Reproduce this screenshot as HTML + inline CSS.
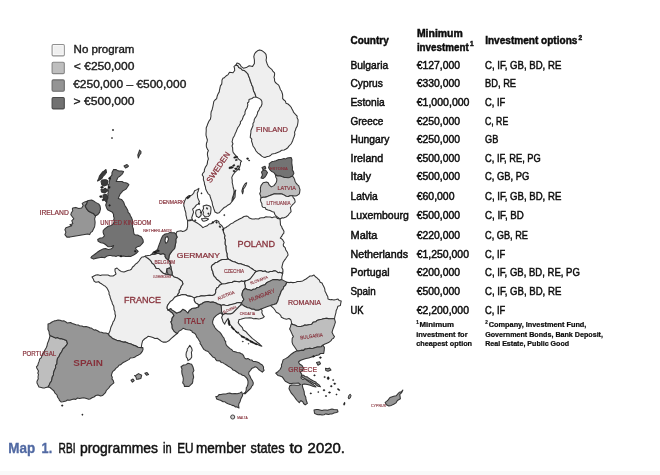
<!DOCTYPE html>
<html><head><meta charset="utf-8"><title>Map 1. RBI programmes in EU member states to 2020</title>
<style>
html,body{margin:0;padding:0;background:#fff;}
body{width:660px;height:475px;overflow:hidden;position:relative;}
svg{position:absolute;left:0;top:0;display:block;filter:blur(0.45px);}
</style></head><body>
<svg width="660" height="475" viewBox="0 0 660 475">
<rect x="0" y="0" width="660" height="475" fill="#fff"/>
<rect x="0" y="471" width="660" height="4" fill="#f9f9f9"/>
<g stroke="#333333" stroke-width="1.05" stroke-linejoin="round">
<polygon points="236.00,65.00 238.02,65.83 238.70,67.60 240.60,68.19 242.20,70.00 244.18,70.45 245.70,71.60 248.00,74.00 248.45,75.71 249.20,77.40 250.04,79.66 250.30,81.00 251.30,83.36 251.50,84.40 253.00,87.24 253.20,89.00 253.50,90.64 255.00,93.60 256.00,97.00 253.43,97.35 252.00,98.50 249.00,99.50 248.85,101.79 247.50,103.00 247.83,104.92 247.00,108.00 245.72,109.87 244.99,112.00 245.00,114.00 243.31,116.42 242.65,118.55 242.00,120.00 240.35,121.95 240.50,123.35 239.00,126.00 237.72,127.79 236.94,129.59 236.00,132.00 235.15,133.63 234.62,135.42 233.00,138.00 232.36,140.68 232.04,141.82 232.95,143.70 232.00,146.00 232.62,147.48 232.74,150.36 233.00,152.00 233.69,153.22 235.76,155.54 237.00,157.00 238.60,159.16 240.50,160.50 241.60,161.20 240.59,162.35 240.40,164.60 239.30,168.00 237.00,170.40 234.60,172.70 232.90,175.00 231.80,177.40 232.30,180.80 232.16,182.48 232.90,185.50 233.13,187.27 234.00,190.00 234.06,192.87 233.50,194.80 232.72,196.85 232.30,198.20 231.80,201.70 230.00,204.00 227.70,205.20 225.87,206.82 224.20,207.50 222.83,208.77 220.70,211.00 219.06,212.81 217.30,213.30 215.00,212.00 213.80,208.70 213.09,206.45 212.60,205.20 212.00,201.70 211.16,199.59 210.30,197.00 209.81,195.15 208.00,193.60 206.65,191.05 205.70,189.00 205.47,187.04 204.50,184.30 204.30,182.11 203.40,179.70 203.45,176.81 202.20,175.00 202.82,173.23 204.30,171.60 204.39,169.80 205.30,167.40 206.95,164.75 207.40,163.00 207.57,161.10 208.40,159.00 207.80,156.64 207.40,154.70 207.49,152.78 208.40,150.50 207.51,149.40 206.44,146.94 206.30,145.30 206.52,142.86 206.92,142.37 207.40,140.00 206.66,137.65 206.05,135.34 206.00,134.00 206.12,132.07 206.22,130.70 206.18,128.02 207.00,126.00 207.80,123.67 209.00,121.00 210.43,119.15 211.00,116.00 210.87,114.56 211.18,111.74 212.00,110.00 212.51,108.15 213.00,106.00 213.35,103.99 213.79,101.54 215.00,100.00 216.66,98.55 217.21,95.98 218.00,94.00 219.26,91.87 219.47,90.15 220.00,88.00 220.40,85.83 221.68,84.12 221.92,82.26 222.00,80.00 223.11,78.09 224.11,77.98 226.00,76.00 228.12,74.61 229.50,72.20 233.00,72.80 234.70,70.50 234.55,68.50 234.00,66.40" fill="#efefef"/>
<polygon points="237.00,63.00 238.70,63.50 240.28,64.80 241.00,66.40 243.40,68.20 246.30,67.60 249.20,65.80 252.60,66.40 254.40,63.50 254.40,60.00 253.80,56.60 254.40,54.30 255.50,52.50 257.45,50.80 259.60,49.90 261.60,50.52 263.00,51.40 264.80,52.86 266.00,54.30 266.50,57.70 266.06,60.23 266.50,61.80 267.25,64.04 268.30,66.40 269.62,67.67 271.70,69.30 273.02,71.46 274.60,72.80 274.57,75.20 274.00,77.40 274.53,78.92 274.60,81.00 275.42,82.48 277.00,83.80 278.69,85.15 279.80,87.80 280.41,89.71 281.60,91.30 282.54,94.25 282.70,96.00 282.65,98.69 284.00,100.00 285.40,101.14 286.07,103.36 288.00,104.00 289.79,105.67 291.15,107.28 292.00,109.00 293.22,111.16 293.33,111.83 294.81,113.71 296.00,115.00 297.16,116.06 297.03,117.82 298.09,119.67 298.00,122.00 297.61,124.32 297.14,126.38 296.05,128.00 295.50,130.00 294.56,132.15 294.84,134.24 294.00,137.00 293.14,139.18 292.64,140.77 291.70,142.72 291.00,144.00 288.66,146.36 287.82,147.73 286.00,149.00 284.17,149.98 281.77,150.15 280.00,151.50 277.01,152.72 275.00,153.50 272.11,153.92 270.50,155.50 268.89,156.27 266.59,156.78 265.00,157.50 263.14,156.89 261.69,156.15 260.00,154.50 257.98,153.13 256.00,151.00 255.35,149.55 254.49,148.05 253.00,146.00 252.43,143.61 251.50,141.00 251.83,139.04 250.23,137.47 250.50,135.00 250.81,132.90 250.95,130.45 252.00,128.00 253.00,125.82 252.95,123.51 254.00,122.00 254.27,119.56 255.01,118.13 256.50,116.00 257.52,113.40 257.62,112.09 259.00,110.00 259.76,107.89 261.17,106.28 262.00,104.00 261.85,101.19 260.70,99.40 257.68,97.64 256.00,97.00 255.00,93.60 253.50,90.64 253.20,89.00 253.00,87.24 251.50,84.40 251.30,83.36 250.30,81.00 250.04,79.66 249.20,77.40 248.45,75.71 248.00,74.00 245.70,71.60 244.18,70.45 242.20,70.00 240.60,68.19 238.70,67.60 238.02,65.83 236.00,65.00" fill="#efefef"/>
<polygon points="269.20,163.70 272.00,161.60 273.97,161.19 275.95,160.68 278.80,159.60 281.14,159.40 283.95,158.58 285.70,158.90 287.27,158.09 288.74,157.67 291.10,157.50 291.96,159.77 291.80,162.30 291.90,164.47 292.29,166.39 292.50,167.80 292.28,169.90 293.50,171.88 293.90,173.30 292.50,176.00 289.80,177.40 288.15,177.72 285.99,177.42 284.30,177.40 282.48,176.80 280.24,175.96 277.50,176.00 275.40,174.60 274.00,172.60 271.30,171.20 270.17,170.18 268.60,167.80 269.37,165.13" fill="#737373"/>
<polygon points="261.50,172.00 262.84,170.60 265.50,170.00 267.50,172.50 266.00,175.50 264.65,177.39 263.00,178.50 261.00,178.00 262.50,175.00" fill="#737373"/>
<polygon points="262.00,167.50 265.00,166.30 265.80,168.30 263.00,169.80" fill="#737373"/>
<polygon points="275.40,174.60 277.50,176.00 280.24,175.96 282.48,176.80 284.30,177.40 285.99,177.42 288.15,177.72 289.80,177.40 292.50,176.00 293.87,177.85 294.60,179.40 294.98,181.19 295.90,182.80 297.58,184.81 298.70,185.60 299.39,187.89 300.00,189.70 299.65,192.32 299.30,193.80 296.60,195.80 295.08,195.99 292.50,195.80 290.06,195.72 288.40,196.50 286.15,196.31 284.30,195.10 281.87,193.94 280.20,193.80 278.67,194.03 276.93,194.06 274.70,193.80 273.20,194.18 271.34,194.95 269.20,195.80 267.15,196.62 265.10,197.20 262.87,197.31 261.00,197.90 260.62,195.69 259.70,193.80 260.62,191.32 260.40,189.70 260.38,188.12 261.00,185.60 263.10,182.80 266.50,182.10 268.22,182.85 269.20,184.90 271.30,186.90 274.00,185.60 276.10,182.80 276.72,180.90 276.80,178.70 275.82,177.18" fill="#bebebe"/>
<polygon points="261.00,197.90 262.87,197.31 265.10,197.20 267.15,196.62 269.20,195.80 271.34,194.95 273.20,194.18 274.70,193.80 276.93,194.06 278.67,194.03 280.20,193.80 281.87,193.94 284.30,195.10 286.15,196.31 288.40,196.50 290.06,195.72 292.50,195.80 293.24,197.55 294.60,199.20 295.20,202.00 293.50,203.78 292.50,204.70 290.40,207.50 290.75,209.55 291.10,211.60 289.00,214.00 288.06,215.45 286.00,217.00 283.48,217.93 282.18,217.70 280.00,219.00 278.30,217.69 276.00,216.00 274.78,214.22 274.00,212.00 272.45,211.70 270.02,210.56 268.00,210.00 265.86,209.25 265.43,207.67 262.89,207.28 262.00,206.00 261.84,203.50 261.00,202.00 260.39,199.77" fill="#efefef"/>
<polygon points="223.60,228.50 226.03,227.51 227.30,226.40 228.66,225.72 230.69,223.86 233.40,222.70 234.85,221.43 238.14,219.76 239.50,219.00 241.71,218.00 244.00,216.50 246.53,216.09 248.00,216.50 249.40,218.07 252.00,219.00 254.68,219.04 255.31,218.67 258.54,218.94 260.00,218.00 261.75,217.83 263.85,217.78 265.91,216.67 268.00,217.00 270.32,216.93 272.07,217.65 273.90,217.05 276.00,217.00 277.32,218.38 280.00,219.00 280.26,221.35 280.31,222.35 280.50,225.00 281.93,227.04 281.86,227.62 283.58,230.55 284.00,231.50 283.68,233.64 282.73,234.20 281.63,236.41 280.30,238.00 282.60,239.70 284.20,242.40 283.29,244.42 283.40,246.00 285.16,247.53 285.80,250.00 287.50,252.50 288.10,255.00 287.07,256.58 285.60,258.80 284.32,260.41 283.00,262.60 282.23,265.61 281.80,267.60 282.81,269.38 283.00,271.40 281.80,273.30 279.98,272.38 278.00,272.70 275.88,271.09 274.20,270.80 272.38,271.50 270.40,271.40 268.73,272.21 266.60,272.00 265.22,271.02 262.90,271.40 260.79,270.50 259.00,270.80 256.50,271.40 254.00,270.20 252.03,268.77 250.20,267.60 248.86,266.55 246.40,265.70 244.77,265.25 242.60,264.50 240.55,263.70 238.80,263.80 237.52,263.24 235.00,262.00 232.60,261.44 230.00,260.00 228.00,259.00 227.00,256.00 227.03,253.71 226.48,252.07 226.00,250.00 225.86,248.12 225.95,245.93 225.02,244.32 225.00,242.00 225.35,240.08 224.50,238.00 224.85,235.38 224.00,233.70 223.13,230.83" fill="#efefef"/>
<polygon points="177.10,231.50 179.65,230.98 180.90,230.80 182.54,231.49 184.50,231.00 186.80,229.50 187.60,226.50 187.63,224.18 187.60,222.80 187.60,220.60 189.90,220.81 192.00,220.00 194.50,221.50 196.80,222.70 199.26,224.42 200.40,225.20 202.90,227.60 205.30,226.40 207.17,225.85 209.00,224.00 211.16,223.82 212.60,222.70 214.40,221.25 216.30,220.30 218.70,221.50 219.27,223.65 221.20,225.20 222.18,226.20 223.60,228.50 223.13,230.83 224.00,233.70 224.85,235.38 224.50,238.00 225.35,240.08 225.00,242.00 225.02,244.32 225.95,245.93 225.86,248.12 226.00,250.00 226.48,252.07 227.03,253.71 227.00,256.00 228.00,259.00 226.26,259.57 224.00,259.50 222.38,259.46 220.00,260.50 217.31,262.30 215.81,262.45 214.00,264.00 212.21,265.15 211.30,266.90 212.00,270.10 212.84,271.49 213.20,273.80 214.00,275.98 215.70,277.60 216.57,279.09 218.30,280.20 220.80,282.70 222.00,284.00 219.50,285.20 218.38,287.14 217.00,287.80 215.70,290.30 215.70,292.80 214.50,294.70 212.30,295.41 209.40,295.30 206.81,295.51 204.40,296.00 201.46,295.77 199.30,296.60 197.09,296.84 194.20,297.90 191.70,296.60 189.18,296.12 187.90,296.00 185.56,294.69 184.10,294.70 182.10,294.63 180.30,295.30 177.20,296.00 177.80,294.10 179.08,292.46 179.10,290.30 180.40,288.57 181.00,286.50 182.90,284.00 182.20,281.40 179.70,279.50 178.03,278.35 175.90,277.60 173.96,276.98 172.10,275.00 172.10,272.50 171.50,270.00 171.21,267.58 170.80,266.20 169.93,264.68 170.20,262.40 168.50,260.00 169.00,257.00 169.09,255.74 170.20,253.60 172.10,251.00 174.60,248.50 175.20,245.40 175.90,242.20 175.83,239.24 177.10,237.20 175.90,234.00" fill="#efefef"/>
<polygon points="211.30,266.90 212.21,265.15 214.00,264.00 215.81,262.45 217.31,262.30 220.00,260.50 222.38,259.46 224.00,259.50 226.26,259.57 228.00,259.00 230.00,260.00 232.60,261.44 235.00,262.00 237.52,263.24 238.80,263.80 240.55,263.70 242.60,264.50 244.77,265.25 246.40,265.70 248.86,266.55 250.20,267.60 252.03,268.77 254.00,270.20 256.50,271.40 255.02,272.47 254.00,274.00 252.10,276.50 250.20,279.00 247.70,280.30 245.20,280.90 243.00,281.50 241.60,281.05 239.20,281.90 237.11,281.58 234.10,281.30 231.96,282.47 230.30,282.50 228.10,283.06 225.30,283.80 222.00,284.00 220.80,282.70 218.30,280.20 216.57,279.09 215.70,277.60 214.00,275.98 213.20,273.80 212.84,271.49 212.00,270.10" fill="#efefef"/>
<polygon points="256.50,271.40 259.00,270.80 260.79,270.50 262.90,271.40 265.22,271.02 266.60,272.00 268.73,272.21 270.40,271.40 272.38,271.50 274.20,270.80 275.88,271.09 278.00,272.70 279.98,272.38 281.80,273.30 283.00,272.70 282.40,274.60 281.80,277.10 281.80,279.60 279.30,280.30 277.59,279.62 275.50,279.60 273.00,279.60 270.40,280.90 268.75,281.62 266.60,282.80 264.98,284.70 262.90,285.30 261.15,286.04 259.10,287.20 256.99,287.59 255.30,289.10 253.24,289.27 251.50,290.40 249.05,289.64 247.70,289.70 245.20,287.90 245.20,286.00 244.50,282.80 245.20,280.90 247.70,280.30 250.20,279.00 252.10,276.50 254.00,274.00 255.02,272.47" fill="#efefef"/>
<polygon points="194.20,297.90 197.09,296.84 199.30,296.60 201.46,295.77 204.40,296.00 206.81,295.51 209.40,295.30 212.30,295.41 214.50,294.70 215.70,292.80 215.70,290.30 217.00,287.80 218.38,287.14 219.50,285.20 222.00,284.00 225.30,283.80 228.10,283.06 230.30,282.50 231.96,282.47 234.10,281.30 237.11,281.58 239.20,281.90 241.60,281.05 243.00,281.50 245.20,280.90 244.50,282.80 245.20,286.00 245.20,288.50 243.46,289.99 242.60,291.60 242.11,293.96 242.00,295.40 243.01,297.77 243.90,299.20 242.37,301.71 241.40,303.00 239.20,302.50 237.18,302.82 235.40,303.40 233.53,304.06 230.30,304.70 227.87,305.41 225.30,305.30 223.30,304.84 221.00,305.50 219.70,304.48 217.50,304.00 215.94,303.03 213.00,302.00 210.37,302.37 208.00,301.50 205.14,302.04 203.50,302.50 202.18,303.64 200.02,304.51 199.00,305.50 198.00,304.20 195.50,302.90 194.20,300.40" fill="#efefef"/>
<polygon points="245.20,288.50 247.70,289.70 249.05,289.64 251.50,290.40 253.24,289.27 255.30,289.10 256.99,287.59 259.10,287.20 261.15,286.04 262.90,285.30 264.98,284.70 266.60,282.80 268.75,281.62 270.40,280.90 273.00,279.60 275.50,279.60 277.59,279.62 279.30,280.30 281.80,279.60 284.30,280.90 286.90,282.20 285.60,285.30 283.87,286.63 283.10,289.10 281.48,290.68 280.80,292.50 279.86,295.14 278.80,297.10 278.16,299.88 277.60,301.50 276.30,303.70 273.80,304.60 270.60,305.60 267.50,306.50 264.30,307.80 261.20,309.10 258.50,310.30 255.56,310.33 254.00,309.30 251.53,309.15 249.50,308.00 247.57,307.84 244.50,306.30 242.20,304.60 241.40,303.00 242.37,301.71 243.90,299.20 243.01,297.77 242.00,295.40 242.11,293.96 242.60,291.60 243.46,289.99" fill="#969696"/>
<polygon points="221.00,305.50 223.30,304.84 225.30,305.30 227.87,305.41 230.30,304.70 233.53,304.06 235.40,303.40 237.18,302.82 239.20,302.50 241.40,303.00 240.50,305.30 238.77,306.83 237.90,307.80 235.40,310.30 233.54,312.28 232.90,312.90 230.47,314.04 229.10,314.10 227.18,313.87 225.30,313.50 222.80,314.80 221.50,311.60 221.50,309.00" fill="#efefef"/>
<polygon points="232.90,312.90 233.54,312.28 235.40,310.30 237.90,307.80 238.77,306.83 240.50,305.30 242.20,304.60 244.50,306.30 247.57,307.84 249.50,308.00 251.53,309.15 254.00,309.30 255.56,310.33 258.50,310.30 261.20,309.10 262.15,310.77 261.80,312.80 263.10,315.40 264.30,316.60 262.60,318.00 260.10,318.80 258.50,318.98 255.90,318.40 253.64,318.86 251.70,318.00 249.82,317.78 247.50,318.00 245.24,317.94 243.30,318.40 240.70,319.30 239.00,319.60 238.20,322.60 239.90,325.20 242.40,327.70 243.17,330.01 244.90,331.00 246.42,332.08 247.50,333.60 250.00,336.10 252.50,338.60 253.60,339.34 255.90,341.10 257.07,342.22 259.20,343.70 260.92,345.53 261.80,346.20 260.19,345.79 257.60,344.50 255.93,343.74 253.40,342.80 251.92,341.45 249.10,340.30 247.28,338.61 244.90,337.80 242.13,336.13 240.70,335.30 238.84,333.68 238.50,332.35 236.50,331.90 235.32,330.57 233.20,328.50 232.52,327.39 230.60,325.20 229.31,323.55 229.00,321.00 228.10,318.40 226.40,320.90 225.24,322.70 224.70,324.30 223.00,321.80 222.52,319.78 221.60,317.50 222.80,314.80 225.30,313.50 227.18,313.87 229.10,314.10 230.47,314.04" fill="#efefef"/>
<polygon points="286.90,282.20 289.47,282.61 290.70,282.20 292.85,282.63 295.70,282.20 297.29,281.52 300.00,281.50 302.65,280.92 304.57,279.79 306.00,279.00 308.51,277.10 310.00,276.00 311.92,276.02 314.00,275.00 315.12,276.48 317.02,277.81 318.00,279.00 319.23,279.96 320.19,282.21 322.00,283.00 322.80,284.77 324.00,287.00 324.77,288.85 325.00,291.22 326.00,293.00 326.74,294.90 327.79,296.49 328.00,299.00 330.24,299.70 331.53,299.51 334.00,300.00 336.06,299.57 338.00,299.00 339.04,300.43 341.20,301.10 340.81,302.82 340.40,305.40 337.90,306.20 337.20,308.41 336.20,310.40 335.90,312.95 335.40,314.60 334.88,316.63 334.50,318.80 332.61,318.80 330.30,318.80 328.47,318.63 326.32,318.29 323.60,318.80 321.75,319.29 319.33,319.68 316.80,320.50 315.79,321.85 313.04,322.33 311.74,324.20 310.00,324.60 306.60,325.30 304.81,325.03 302.80,325.90 300.76,326.53 299.00,326.50 297.12,326.22 295.30,325.30 292.70,324.60 291.50,323.50 291.36,321.68 290.80,319.80 289.00,318.50 286.40,319.20 283.90,318.50 281.40,317.30 280.70,315.40 278.80,313.50 276.30,312.20 275.10,310.30 273.20,307.80 270.60,305.60 273.80,304.60 276.30,303.70 277.60,301.50 278.16,299.88 278.80,297.10 279.86,295.14 280.80,292.50 281.48,290.68 283.10,289.10 283.87,286.63 285.60,285.30" fill="#efefef"/>
<polygon points="291.50,323.50 292.70,324.60 295.30,325.30 297.12,326.22 299.00,326.50 300.76,326.53 302.80,325.90 304.81,325.03 306.60,325.30 310.00,324.60 311.74,324.20 313.04,322.33 315.79,321.85 316.80,320.50 319.33,319.68 321.75,319.29 323.60,318.80 326.32,318.29 328.47,318.63 330.30,318.80 332.61,318.80 334.50,318.80 335.40,322.20 334.53,324.92 333.70,327.20 332.95,329.18 332.00,332.30 333.37,335.09 334.50,336.50 333.51,338.33 331.69,339.36 331.10,340.70 328.56,342.61 326.90,343.20 324.36,344.22 322.90,345.20 321.21,346.76 319.20,347.00 317.41,347.08 315.52,347.58 313.30,348.20 311.63,348.44 309.74,348.21 307.00,348.80 304.81,349.13 303.75,350.39 301.50,350.20 298.63,350.93 297.10,350.80 295.30,348.00 294.27,346.46 292.70,344.20 292.09,342.06 292.10,340.40 292.21,338.25 293.40,336.60 292.67,335.37 291.50,332.80 290.66,330.86 289.60,329.00 290.44,326.91 290.80,325.30" fill="#bebebe"/>
<polygon points="291.20,354.20 294.00,352.20 297.10,350.80 298.63,350.93 301.50,350.20 303.75,350.39 304.81,349.13 307.00,348.80 309.74,348.21 311.63,348.44 313.30,348.20 315.52,347.58 317.41,347.08 319.20,347.00 321.21,346.76 322.90,345.20 324.40,347.40 324.20,350.50 323.70,353.40 320.51,353.51 318.70,355.00 316.22,355.36 313.60,356.70 311.75,356.89 308.60,358.00 306.00,358.40 303.50,359.30 300.20,360.50 298.50,362.00 299.50,364.00 302.00,365.50 303.50,368.00 302.50,370.50 300.20,371.90 301.80,374.40 301.00,377.80 302.70,379.50 305.20,378.60 306.90,380.30 309.40,382.00 311.90,383.70 314.50,385.40 316.10,387.00 313.50,386.50 310.30,385.20 307.40,384.50 304.40,384.00 302.30,384.60 302.60,387.00 303.70,390.10 304.18,391.77 304.40,394.60 305.79,397.24 305.90,399.00 306.42,400.75 307.40,403.40 305.20,404.90 303.59,403.50 303.00,402.00 300.80,400.50 299.30,402.70 297.10,400.50 295.81,398.96 294.90,397.50 293.97,396.26 292.60,394.60 291.16,392.90 290.40,391.60 289.00,388.70 289.70,385.70 292.11,384.95 294.10,385.10 296.31,385.34 298.50,385.20 300.60,384.60 298.50,383.00 295.60,383.20 293.19,383.21 291.90,383.60 289.61,383.61 288.20,382.80 285.30,381.30 283.80,379.10 282.30,376.90 280.10,376.10 277.90,375.40 275.70,373.20 277.90,371.70 280.10,369.50 281.60,366.50 281.38,364.99 282.30,362.90 283.10,359.90 286.00,358.40 288.20,357.00 289.93,355.33" fill="#969696"/>
<polygon points="301.50,375.20 303.44,375.28 305.00,376.50 307.21,376.89 309.00,378.30 310.32,379.18 313.00,380.80 315.66,381.89 317.00,383.50 318.80,384.59 320.50,386.80 318.00,386.30 316.08,384.92 315.32,383.62 313.50,383.20 311.16,381.80 309.00,380.60 307.03,379.61 305.00,378.60 302.00,377.00" fill="#969696"/>
<polygon points="316.50,362.50 319.50,361.80 320.50,363.80 318.00,365.30" fill="#969696"/>
<polygon points="325.50,368.30 327.91,368.81 329.50,368.00 331.00,370.00 328.00,371.30 325.80,370.50" fill="#969696"/>
<polygon points="314.00,410.00 316.44,409.54 318.00,409.50 319.96,409.98 322.00,410.50 323.91,409.99 326.00,410.00 327.32,410.18 330.00,409.50 331.99,408.93 334.00,409.50 337.50,409.80 338.00,411.80 336.54,412.48 334.00,413.00 332.27,413.91 330.00,414.00 328.53,414.54 325.67,413.87 324.00,414.80 322.02,415.10 319.77,414.56 318.00,414.80 316.48,414.35 314.50,413.20" fill="#969696"/>
<polygon points="385.20,402.40 386.66,401.34 388.20,399.90 390.00,397.50 391.52,396.97 393.70,396.30 396.11,395.82 397.40,394.40 399.31,392.27 401.42,391.65 402.90,390.10 401.70,392.59 399.80,394.40 400.09,396.95 400.40,398.70 397.40,400.50 395.95,402.85 393.70,404.20 391.30,405.40 388.80,406.00 386.40,404.80" fill="#969696"/>
<polygon points="145.60,256.10 143.23,256.93 142.00,257.00 140.31,258.96 139.00,261.00 137.52,262.71 135.48,264.17 134.00,266.00 132.57,266.99 131.38,269.31 130.00,270.00 127.79,270.47 125.38,271.42 124.00,272.00 121.07,271.39 119.00,270.00 117.00,268.00 115.00,269.00 114.99,271.12 116.00,274.00 114.40,275.18 113.00,276.00 110.11,275.96 108.00,275.00 105.74,274.99 103.52,274.95 102.00,275.00 100.38,275.52 97.83,274.84 96.00,275.00 94.41,275.72 92.00,277.00 93.28,278.92 94.00,281.00 95.89,282.34 98.61,281.64 100.00,283.00 101.86,284.07 103.76,285.45 105.00,286.00 107.05,288.19 108.00,290.00 109.04,292.14 109.05,294.28 110.00,296.00 110.15,297.35 111.17,300.24 112.00,302.00 112.43,304.05 113.68,305.95 114.00,308.00 113.94,309.34 114.95,311.82 115.00,314.00 115.58,315.77 115.00,318.00 114.22,320.39 113.00,322.00 112.58,323.82 111.00,327.00 110.59,328.34 110.00,331.00 108.50,334.00 109.08,335.61 111.00,337.00 112.37,338.46 115.00,339.50 117.48,340.64 119.50,340.80 121.38,341.41 123.75,342.14 125.30,341.90 128.34,343.22 130.30,343.80 131.61,344.15 133.09,345.12 135.40,345.70 138.00,347.32 140.40,347.60 141.30,347.50 141.75,344.20 142.60,340.80 144.70,338.75 146.77,337.54 148.00,336.25 150.50,336.70 153.00,337.50 154.94,338.41 157.20,338.30 159.70,340.00 160.91,340.96 163.00,342.10 166.30,342.10 168.80,340.80 171.30,338.30 173.80,336.25 176.30,334.20 177.50,333.40 175.50,332.50 173.80,330.80 172.20,328.30 172.10,325.00 170.90,321.90 171.82,320.64 172.10,318.10 174.00,315.60 172.50,313.00 170.49,311.48 169.25,310.43 168.00,310.00 167.10,308.00 167.31,306.02 168.30,304.20 170.20,301.70 172.80,299.80 174.70,297.20 177.20,296.00 177.80,294.10 179.08,292.46 179.10,290.30 180.40,288.57 181.00,286.50 182.90,284.00 182.20,281.40 179.70,279.50 178.03,278.35 175.90,277.60 173.96,276.98 172.10,275.00 170.80,275.00 168.30,274.40 166.00,274.20 163.50,273.30 161.00,271.00 158.80,268.50 156.30,268.50 155.46,266.96 154.00,264.50 152.12,263.16 151.00,261.00 149.66,259.68 148.10,258.30 146.20,257.40" fill="#efefef"/>
<polygon points="187.20,349.00 188.43,347.51 189.80,345.40 191.60,348.00 192.18,350.36 191.37,352.43 191.60,354.30 191.72,357.09 190.70,358.80 188.00,360.60 187.38,358.35 186.30,357.00 186.04,354.61 186.30,352.50 187.34,350.29" fill="#efefef"/>
<polygon points="168.00,310.00 170.90,308.60 172.27,310.08 174.00,311.10 176.50,313.00 178.17,312.51 180.30,311.80 181.48,310.54 182.90,309.20 185.40,310.50 187.90,313.00 189.20,310.50 191.70,308.60 194.26,308.09 195.50,308.00 198.70,306.70 199.00,305.50 200.02,304.51 202.18,303.64 203.50,302.50 205.14,302.04 208.00,301.50 210.37,302.37 213.00,302.00 215.94,303.03 217.50,304.00 219.70,304.48 221.00,305.50 221.50,309.00 221.50,311.60 222.80,314.80 220.20,312.90 218.93,313.81 216.40,315.40 213.90,317.90 213.09,320.03 212.60,321.70 212.84,323.97 213.90,325.50 214.64,327.21 216.35,329.37 217.70,330.60 219.68,332.19 221.50,334.40 222.49,336.29 224.00,338.00 224.50,340.11 225.86,341.87 225.52,342.90 226.50,345.40 228.63,347.36 230.05,348.62 231.90,349.80 232.99,351.22 236.08,352.05 237.20,352.50 239.68,352.73 240.87,353.55 242.60,354.30 243.82,356.08 244.40,357.90 246.18,359.06 247.88,358.42 249.80,359.70 251.77,359.98 253.17,361.50 255.10,361.50 257.20,361.93 258.98,362.70 260.16,363.77 262.30,365.00 263.55,367.04 263.48,368.76 264.10,370.40 262.30,372.20 260.23,370.64 258.70,369.50 257.06,367.57 255.10,366.80 253.40,367.85 251.60,368.60 250.60,370.22 248.90,372.20 248.69,374.26 249.80,375.80 250.81,378.30 251.60,379.40 252.63,381.10 253.30,383.00 252.97,384.93 251.60,386.50 250.76,388.40 248.90,390.00 246.50,392.33 245.30,393.70 243.50,393.70 245.45,392.13 246.20,390.10 246.26,387.68 247.10,386.50 247.84,384.53 248.00,383.00 247.99,381.02 247.10,378.50 245.25,376.71 244.40,375.80 242.38,375.32 240.80,374.00 239.26,373.76 237.20,372.20 234.74,370.55 233.13,370.07 231.90,368.60 230.31,367.38 228.08,366.17 226.50,365.00 224.20,363.58 223.15,362.84 221.10,362.40 219.90,360.89 216.99,360.84 215.80,359.70 214.80,357.65 212.77,356.97 211.30,355.20 209.37,353.03 208.16,351.51 206.00,350.70 203.83,349.40 202.43,347.16 201.50,345.40 200.03,343.45 200.29,342.18 198.80,340.00 198.11,338.61 196.63,336.93 196.00,335.00 194.97,333.57 192.35,332.33 192.12,331.25 190.00,330.00 187.63,329.77 186.00,329.50 183.00,328.30 181.30,330.00 179.35,330.88 178.00,332.50 177.50,333.40 175.50,332.50 173.80,330.80 172.20,328.30 172.10,325.00 170.90,321.90 171.82,320.64 172.10,318.10 174.00,315.60 172.50,313.00 170.49,311.48 169.25,310.43" fill="#969696"/>
<polygon points="215.80,396.40 217.58,396.43 219.01,394.63 221.10,394.60 223.18,393.95 225.38,393.91 226.50,393.70 228.11,393.27 229.85,393.12 231.90,393.70 235.15,393.50 237.20,393.70 239.88,392.96 241.70,391.90 242.38,393.94 242.60,395.50 241.85,396.98 240.80,399.00 240.05,401.66 239.00,403.50 238.60,405.26 239.00,408.00 236.56,406.81 235.50,407.00 233.83,405.62 232.13,405.39 230.10,404.40 228.07,403.74 226.46,403.10 224.70,401.70 223.04,401.77 220.54,400.23 219.40,400.00 216.70,399.00" fill="#969696"/>
<polygon points="183.60,365.00 185.91,364.68 188.00,363.30 189.87,363.80 191.60,364.20 192.97,366.90 193.40,368.60 193.94,370.55 192.72,372.71 193.40,375.80 193.70,377.17 192.93,379.46 192.85,381.22 192.50,383.00 191.12,384.32 189.00,386.50 186.06,386.25 184.50,386.50 183.99,384.45 182.70,383.00 183.19,380.13 183.32,378.34 182.70,375.80 182.05,374.00 181.81,372.03 181.80,370.40 182.02,369.01 181.00,366.80" fill="#969696"/>
<polygon points="177.20,296.00 180.30,295.30 182.10,294.63 184.10,294.70 185.56,294.69 187.90,296.00 189.18,296.12 191.70,296.60 194.20,297.90 194.20,300.40 195.50,302.90 198.00,304.20 198.70,306.70 195.50,308.00 194.26,308.09 191.70,308.60 189.20,310.50 187.90,313.00 185.40,310.50 182.90,309.20 181.48,310.54 180.30,311.80 178.17,312.51 176.50,313.00 174.00,311.10 172.27,310.08 170.90,308.60 167.70,309.90 167.10,308.00 167.31,306.02 168.30,304.20 170.20,301.70 172.80,299.80 174.70,297.20" fill="#ffffff"/>
<polygon points="145.60,256.10 148.10,255.50 150.21,255.23 151.90,254.20 154.40,254.20 156.90,253.60 158.54,253.27 160.70,254.20 163.30,253.60 165.10,254.80 165.15,256.66 166.40,258.60 168.50,260.00 170.20,262.40 169.93,264.68 170.80,266.20 169.60,268.10 167.00,268.70 166.50,271.50 166.00,274.20 163.50,273.30 161.00,271.00 158.80,268.50 156.30,268.50 155.46,266.96 154.00,264.50 152.12,263.16 151.00,261.00 149.66,259.68 148.10,258.30 146.20,257.40" fill="#efefef"/>
<polygon points="167.00,268.70 169.60,268.10 171.50,270.00 172.10,272.50 172.10,275.00 170.80,275.00 168.30,274.40 167.00,271.90" fill="#969696"/>
<polygon points="162.60,235.90 165.10,234.00 168.30,233.40 169.90,232.42 172.10,232.70 174.57,232.79 175.90,234.00 177.10,237.20 175.83,239.24 175.90,242.20 175.20,245.40 174.60,248.50 172.10,251.00 170.20,253.60 169.09,255.74 169.00,257.00 168.50,260.00 166.40,258.60 165.15,256.66 165.10,254.80 163.30,253.60 160.70,254.20 158.54,253.27 156.90,253.60 154.40,254.20 151.90,254.20 153.20,252.30 155.70,251.00 157.56,249.42 158.20,247.30 158.64,246.09 159.50,243.58 160.10,242.20 160.64,240.54 161.40,238.40" fill="#737373"/>
<polygon points="165.50,237.50 167.50,236.50 168.50,239.00 167.50,242.00 166.00,243.50 165.00,241.00" fill="#ffffff"/>
<polygon points="198.90,188.40 198.00,191.80 197.29,193.07 197.50,195.70 197.71,197.64 198.50,199.60 199.40,201.50 198.50,203.90 196.50,204.90 194.60,207.30 192.60,209.20 193.60,212.10 192.60,215.00 191.70,218.00 192.50,219.60 189.75,220.00 187.60,220.60 186.80,218.90 186.49,217.11 185.90,215.00 185.89,213.15 185.40,211.20 184.87,209.72 184.40,207.30 183.78,205.99 183.90,203.40 184.90,200.50 186.40,197.60 188.80,195.70 191.70,195.20 193.60,193.30 194.60,190.80 196.50,189.90" fill="#efefef"/>
<polygon points="203.20,206.00 206.50,205.00 209.80,206.00 210.86,207.34 211.00,209.50 210.75,211.90 210.60,213.50 209.79,215.04 208.50,216.50 205.00,216.80 203.00,214.50 203.44,212.35 202.50,210.50 203.51,208.70" fill="#efefef"/>
<polygon points="196.20,210.20 199.50,209.20 201.20,211.50 201.29,213.13 201.00,215.50 198.80,217.60 196.40,216.20 195.60,213.00" fill="#efefef"/>
<polygon points="201.50,218.80 203.77,218.60 205.50,218.00 208.50,219.00 206.50,220.60 203.87,221.14 202.50,220.80" fill="#efefef"/>
<polygon points="50.00,335.50 52.40,336.47 53.50,337.00 55.60,337.91 57.50,337.50 59.55,338.66 61.00,338.50 64.00,339.50 66.50,340.50 67.50,343.50 66.32,345.41 64.50,347.50 62.81,349.03 62.01,350.97 61.50,352.00 59.85,354.41 59.00,356.50 57.42,358.52 57.00,361.50 56.92,363.90 55.50,365.50 55.70,367.77 54.50,370.00 53.45,373.13 53.50,375.00 52.21,377.11 52.00,379.00 51.30,381.39 50.00,383.00 49.24,385.04 48.00,387.00 44.88,387.86 43.00,388.00 40.35,387.28 39.00,387.00 37.61,384.34 37.00,383.00 36.98,381.35 38.29,378.87 38.00,377.00 38.48,374.34 37.79,373.26 38.50,371.00 37.00,368.57 36.40,366.80 37.80,365.40 38.27,363.38 39.10,361.40 39.73,358.95 41.17,357.85 41.90,355.90 42.59,353.76 44.10,352.20 44.60,350.50 46.09,348.03 47.00,346.00 47.47,343.34 48.50,341.00 49.50,338.00" fill="#bebebe"/>
<polygon points="48.00,324.00 49.81,323.46 52.00,322.00 54.28,320.89 55.69,320.77 58.00,320.00 60.15,320.26 62.00,321.00 64.09,320.86 66.00,322.00 67.37,323.07 70.55,322.52 72.24,323.46 74.00,324.00 75.91,324.80 78.67,325.05 79.51,325.85 82.00,326.00 83.54,326.80 86.01,326.53 88.70,327.19 90.00,328.00 91.39,328.07 94.25,330.11 95.44,329.69 98.00,331.00 99.52,332.02 101.57,332.15 103.45,332.94 106.00,333.00 108.50,334.00 109.08,335.61 111.00,337.00 112.37,338.46 115.00,339.50 117.48,340.64 119.50,340.80 121.38,341.41 123.75,342.14 125.30,341.90 128.34,343.22 130.30,343.80 131.61,344.15 133.09,345.12 135.40,345.70 138.00,347.32 140.40,347.60 142.90,347.60 143.03,349.61 142.30,351.40 140.40,353.90 138.23,355.16 136.60,355.80 134.60,357.28 132.80,357.70 130.29,357.97 129.00,359.60 127.85,360.15 125.30,361.50 123.22,362.50 122.10,363.40 120.59,364.79 118.90,365.30 117.82,366.93 115.80,368.40 114.88,369.76 112.60,371.60 111.99,373.21 111.40,375.40 112.29,377.16 112.00,379.10 113.21,380.38 113.90,382.90 111.40,384.80 109.83,386.39 108.80,388.00 106.30,390.50 105.51,392.62 104.40,393.70 102.50,395.60 100.65,395.92 98.00,395.00 95.84,395.53 94.00,397.00 92.46,397.57 90.00,399.00 88.69,399.21 85.64,398.35 83.45,397.80 82.00,398.00 79.62,398.59 77.42,398.00 75.76,399.37 74.00,399.00 71.93,399.49 69.82,400.29 67.44,399.92 66.00,401.00 62.87,401.72 61.00,402.00 59.32,400.22 59.00,399.00 57.60,397.24 57.00,395.00 54.82,392.81 54.00,391.00 52.11,389.31 50.00,387.50 48.00,387.00 49.24,385.04 50.00,383.00 51.30,381.39 52.00,379.00 52.21,377.11 53.50,375.00 53.45,373.13 54.50,370.00 55.70,367.77 55.50,365.50 56.92,363.90 57.00,361.50 57.42,358.52 59.00,356.50 59.85,354.41 61.50,352.00 62.01,350.97 62.81,349.03 64.50,347.50 66.32,345.41 67.50,343.50 66.50,340.50 64.00,339.50 61.00,338.50 59.55,338.66 57.50,337.50 55.60,337.91 53.50,337.00 52.40,336.47 50.00,335.50 49.28,333.96 49.00,331.50 47.92,329.22 48.00,327.50" fill="#969696"/>
<polygon points="134.50,375.50 136.09,375.19 138.50,373.60 141.70,375.20 140.80,378.60 137.98,379.11 136.50,379.30 136.05,377.06" fill="#969696"/>
<polygon points="144.80,373.20 147.00,372.60 148.60,374.60 146.50,375.20" fill="#969696"/>
<polygon points="131.00,380.20 133.00,379.00 134.20,380.60 132.40,382.20" fill="#969696"/>
<polygon points="72.80,207.90 75.80,207.40 78.80,208.40 81.70,207.90 83.20,205.40 82.20,203.40 84.70,201.90 87.70,200.90 86.70,203.90 85.20,205.90 86.70,208.90 88.70,211.30 91.60,212.80 93.45,213.45 94.60,214.80 95.60,215.80 94.60,218.80 94.99,221.03 95.10,222.70 94.84,225.15 94.60,226.70 93.10,229.70 92.41,231.38 90.60,232.60 89.70,234.60 87.70,234.10 84.70,234.60 81.70,235.10 78.80,235.60 75.80,236.10 72.80,236.60 69.90,237.10 66.90,237.10 64.90,234.60 65.90,232.10 64.90,229.70 65.90,227.70 68.90,226.70 71.80,225.70 69.90,224.70 72.80,223.70 71.80,220.70 73.80,218.80 72.30,216.80 70.80,214.80 71.30,212.80 72.80,210.80 72.30,208.90" fill="#969696"/>
<polygon points="87.70,200.90 88.70,200.40 91.60,200.00 93.60,200.90 95.60,202.40 98.60,203.90 100.00,205.90 100.50,208.90 99.60,212.30 97.60,214.80 95.60,215.80 94.60,214.80 93.45,213.45 91.60,212.80 88.70,211.30 86.70,208.90 85.20,205.90 86.70,203.90" fill="#737373"/>
<polygon points="113.60,169.40 116.14,169.61 117.30,170.40 119.03,171.01 121.50,171.00 123.60,171.50 122.60,173.60 121.65,174.59 119.90,176.20 117.98,177.35 117.30,178.90 116.20,181.50 119.40,181.50 122.08,181.55 123.60,182.50 125.80,182.85 127.80,183.60 128.90,184.70 127.30,187.30 125.98,189.09 124.70,189.90 122.67,191.04 121.50,192.60 120.19,193.88 119.40,195.70 118.30,198.40 121.50,199.40 123.60,202.00 124.70,205.20 125.63,206.63 126.80,208.60 127.98,210.66 128.00,212.20 129.67,213.79 130.40,215.80 131.69,218.08 132.20,219.40 132.71,222.33 132.80,224.20 132.45,226.66 133.40,229.00 133.54,231.49 134.00,233.80 135.14,234.92 137.60,235.00 139.09,235.77 141.20,236.80 143.00,239.80 143.28,242.13 142.40,243.40 140.00,246.00 137.30,246.80 135.50,248.20 136.40,249.50 138.20,251.40 136.40,253.20 133.60,255.00 130.90,256.40 128.63,256.38 127.30,256.40 125.54,256.45 123.60,255.90 120.90,256.40 118.20,255.50 116.17,256.39 114.50,255.90 112.55,256.05 110.90,255.50 109.00,255.48 107.30,255.90 104.50,257.70 101.80,257.30 99.10,257.70 96.40,258.20 93.60,259.10 90.90,257.70 91.80,256.40 94.50,254.50 97.30,252.30 100.00,250.50 102.70,249.10 105.50,248.60 108.20,249.50 110.90,249.10 112.70,247.70 113.60,245.50 110.90,246.80 108.20,246.80 105.50,244.50 103.60,243.20 100.90,242.70 98.20,241.40 97.70,239.50 99.10,238.60 100.48,237.97 102.70,237.70 104.50,235.90 103.60,234.10 103.11,232.45 103.20,230.50 105.00,228.60 107.30,226.80 109.01,225.94 111.20,225.40 113.00,224.20 114.20,221.80 113.77,219.39 114.20,218.20 113.46,216.07 113.60,214.60 112.40,212.20 110.00,211.00 107.60,209.80 106.40,207.40 105.70,205.00 106.80,202.00 106.72,199.66 107.30,197.80 107.97,195.30 107.80,193.60 108.37,192.06 107.80,189.40 108.44,187.54 108.30,185.20 109.06,183.66 109.40,181.00 110.17,179.30 110.40,176.80 111.90,175.14 112.00,172.50" fill="#737373"/>
<polygon points="106.00,169.50 104.18,170.83 102.50,172.00 100.73,174.36 99.50,176.00 98.75,178.38 97.50,181.00 99.50,180.00 101.80,178.55 103.00,176.50 105.09,174.27 106.50,172.50" fill="#3c3c3c"/>
<polygon points="101.00,181.50 102.11,180.05 104.50,179.80 106.05,179.82 108.00,181.00 107.53,182.53 107.20,184.80 104.00,186.00 101.80,184.80" fill="#3c3c3c"/>
<polygon points="101.00,189.50 103.82,189.07 105.50,188.30 108.00,190.60 106.35,191.74 104.50,193.00 101.50,192.00" fill="#3c3c3c"/>
<polygon points="103.00,195.00 106.00,194.20 107.42,196.07 108.00,198.00 106.80,199.99 106.50,202.50 104.50,200.00 103.08,197.54" fill="#3c3c3c"/>
<polygon points="124.00,166.00 127.00,164.50 128.50,166.00 127.09,167.34 125.50,168.00" fill="#737373"/>
<polygon points="139.50,150.00 141.00,151.50 140.89,153.32 139.50,155.00 138.30,158.00 137.80,155.00 139.00,152.06" fill="#737373"/>
<polygon points="246.70,182.80 245.30,183.50 243.90,185.60 242.60,188.30 241.90,191.00 242.60,193.80 243.30,191.00 243.27,188.91 244.60,187.60 246.00,184.90" fill="#efefef"/>
<polygon points="234.60,191.30 235.80,190.10 235.29,192.07 235.20,194.80 235.03,197.26 233.50,199.40 232.30,201.10 232.90,198.20 233.63,196.55 234.10,193.60" fill="#efefef"/>
</g>

<g fill="#1a1a1a" stroke="#1a1a1a" stroke-width="0.5" stroke-linejoin="round">
<circle cx="113" cy="130" r="0.7"/><circle cx="112" cy="138" r="0.6"/><circle cx="62.2" cy="405.6" r="0.75"/><circle cx="82.4" cy="414.7" r="0.6"/>
<!-- Scotland west isles clutter -->
<path d="M100.5,187 l2,-1 1,1.5 -2,1z M99.5,196 l2,-0.5 0.8,1.8 -2.2,0.2z M102,199.5 l1.6,-0.6 0.8,1.4 -1.8,0.6z M108.5,178 l1.5,-1 0.6,2 -1.6,0.5z M108.4,186.5 l1.8,0.2 -0.4,1.6 -1.6,-0.4z M109.2,204.5 l1.3,0.6 -0.6,1.2 -1.2,-0.6z"/>
<!-- Dalmatian islands -->
<path d="M228.3,319.5 l1.2,1.6 0.6,3.6 -0.9,1.2 -1.1,-2.5z M231.6,326.3 l2.6,2.6 0.2,1 -0.9,0.1 -2.4,-2.6z M235.6,330.8 l2.3,1.9 -0.3,0.8 -2.2,-1.8z M241.3,335.7 l3.5,1.4 -0.3,1.2 -3.4,-1.3z M245.8,338.3 l3.2,1.2 -0.4,1.2 -3,-1.1z M250,340.6 l3.8,1.6 -0.3,1.2 -3.7,-1.5z M254.5,342.8 l2.6,1.1 -0.3,1 -2.5,-1z"/>
<circle cx="242.8" cy="341.6" r="0.5"/><circle cx="248.6" cy="343.8" r="0.4"/>
<!-- Danish clutter -->
<path d="M186.5,197.8 l1.8,-1.2 1,1.2 -1.8,1.2z M188.8,196.2 l1.2,-0.5 0.4,1.2 -1.2,0.4z M198.8,203 l1.2,0.8 -0.8,1 -0.9,-0.8z M200.6,211.5 l1,0.8 -0.6,1 -0.8,-0.6z M206.5,207.5 l1.2,0.5 -0.3,1.4 -1,-0.6z M208,212.8 l1.2,0.6 -0.8,1.2 -0.7,-0.8z M195,219.6 l1.1,0.8 -0.8,0.9 -0.9,-0.8z M212.3,221.6 l1.4,0.6 -0.5,1.2 -1.3,-0.6z M216.2,221.2 l1.2,1.2 -0.7,1 -1,-1.1z M219.3,225.7 l1.6,0.7 -0.4,1.3 -1.4,-0.6z M222.6,228.8 l1.4,0.6 -0.5,1.2 -1.3,-0.7z"/>
<circle cx="201.5" cy="193.3" r="0.6"/><circle cx="224.3" cy="215.1" r="0.6"/>
<!-- Stockholm archipelago / Aland -->
<path d="M229,167.2 l3.2,-0.9 1.3,1.4 -2.2,0.8 -2.3,0.2z M232.5,165.5 l1.8,-1.2 0.7,1.2 -1.6,1z M234.5,168.2 l2.4,-0.4 0.5,1.6 -2.1,0.3z M236.8,166.2 l1.6,-0.7 0.6,1.5 -1.5,0.5z M233,170.6 l1.9,-0.2 0.3,1.3 -1.9,0.1z M238.5,168.7 l1.3,0.2 -0.2,1.3 -1.2,-0.3z M233.8,157 l2.8,-0.8 1.2,0.5 -1.2,1.1 -2.7,0.4z M235.2,159.8 l1.8,-0.6 0.4,1 -1.8,0.5z M246.5,158.2 l1.6,-0.4 0.6,1.3 -1.6,0.5z M248.6,160 l0.9,0 0.2,0.9 -1,0z"/>
<!-- NL delta / Thames -->
<path d="M153.2,252.2 l2.6,-1.2 1.4,1.2 -2.2,1.4z M156.8,250.6 l2,-0.6 0.6,1.2 -2,0.6z M120.2,255.6 l1.8,0.2 -0.4,1.2 -1.5,-0.3z M134.6,250.4 l1.6,0.4 -0.4,1.4 -1.4,-0.5z"/>
<!-- Greek islands -->
<ellipse cx="320.4" cy="357.6" rx="1" ry="0.8"/><ellipse cx="313.5" cy="356.3" rx="0.9" ry="0.7"/>
<ellipse cx="314.5" cy="375.3" rx="0.8" ry="0.6"/><ellipse cx="324.6" cy="377" rx="0.8" ry="0.6"/>
<ellipse cx="328.2" cy="378.2" rx="1" ry="1.4"/><ellipse cx="331.3" cy="386.2" rx="0.9" ry="0.7"/>
<ellipse cx="334.7" cy="383.7" rx="1" ry="0.7"/><ellipse cx="338.6" cy="389.6" rx="1.4" ry="0.6" transform="rotate(35 338.6 389.6)"/>
<ellipse cx="324" cy="390.2" rx="0.9" ry="0.7"/><ellipse cx="329.5" cy="392.5" rx="1" ry="0.7"/>
<ellipse cx="326" cy="396" rx="0.8" ry="0.6"/><ellipse cx="344.3" cy="403.8" rx="0.6" ry="1.5" transform="rotate(15 344.3 403.8)"/>
<ellipse cx="310.8" cy="393.4" rx="0.7" ry="0.6"/><ellipse cx="333.2" cy="380" rx="0.7" ry="0.6"/>
<ellipse cx="318.3" cy="392" rx="0.6" ry="0.5"/><ellipse cx="336.5" cy="394.5" rx="0.6" ry="0.6"/>
</g>
<g fill="#969696" stroke="#333" stroke-width="0.9">
<circle cx="232.7" cy="417" r="2.05" fill="#cfcfcf" stroke="#333" stroke-width="0.9"/>
<ellipse cx="349.6" cy="396.6" rx="1.1" ry="2.4" transform="rotate(20 349.6 396.6)"/>
</g>

<g font-family="Liberation Sans, DejaVu Sans, sans-serif" fill="#86303a" stroke="#86303a" stroke-width="0.3">
<text x="39.6" y="215.4" font-size="6.70" stroke-width="0.198" textLength="29.2" lengthAdjust="spacingAndGlyphs" font-weight="normal">IRELAND</text>
<text x="100.3" y="224.8" font-size="6.70" stroke-width="0.198" textLength="51" lengthAdjust="spacingAndGlyphs" font-weight="normal">UNITED KINGDOM</text>
<text x="143.3" y="232.3" font-size="3.67" stroke-width="0.109" textLength="28.5" lengthAdjust="spacingAndGlyphs" font-weight="normal">NETHERLANDS</text>
<text x="159" y="204.3" font-size="5.62" stroke-width="0.166" textLength="25.5" lengthAdjust="spacingAndGlyphs" font-weight="normal">DENMARK</text>
<text x="154.4" y="264.3" font-size="4.97" stroke-width="0.147" textLength="20.8" lengthAdjust="spacingAndGlyphs" font-weight="normal">BELGIUM</text>
<text x="153" y="278.3" font-size="3.35" stroke-width="0.099" textLength="18" lengthAdjust="spacingAndGlyphs" font-weight="normal">LUXEMBOURG</text>
<text x="176.8" y="257.7" font-size="8.10" stroke-width="0.240" textLength="43.2" lengthAdjust="spacingAndGlyphs" font-weight="normal">GERMANY</text>
<text x="237.6" y="247.4" font-size="9.50" stroke-width="0.282" textLength="37.4" lengthAdjust="spacingAndGlyphs" font-weight="normal">POLAND</text>
<text x="124" y="303" font-size="9.94" stroke-width="0.294" textLength="37" lengthAdjust="spacingAndGlyphs" font-weight="normal">FRANCE</text>
<text x="73.3" y="365.7" font-size="9.07" stroke-width="0.000" textLength="29.6" lengthAdjust="spacingAndGlyphs" font-weight="bold">SPAIN</text>
<text x="22.4" y="355.6" font-size="6.70" stroke-width="0.198" textLength="33.8" lengthAdjust="spacingAndGlyphs" font-weight="normal">PORTUGAL</text>
<text x="184.1" y="323.8" font-size="8.86" stroke-width="0.000" textLength="21.5" lengthAdjust="spacingAndGlyphs" font-weight="bold">ITALY</text>
<text x="288" y="305" font-size="7.56" stroke-width="0.224" textLength="33" lengthAdjust="spacingAndGlyphs" font-weight="normal">ROMANIA</text>
<text x="288.2" y="371.7" font-size="7.78" stroke-width="0.230" textLength="28.8" lengthAdjust="spacingAndGlyphs" font-weight="normal">GREECE</text>
<text x="256" y="132" font-size="7.56" stroke-width="0.224" textLength="32" lengthAdjust="spacingAndGlyphs" font-weight="normal">FINLAND</text>
<text x="269.9" y="169.9" font-size="4.10" stroke-width="0.122" textLength="17.8" lengthAdjust="spacingAndGlyphs" font-weight="normal">ESTONIA</text>
<text x="277.5" y="190.4" font-size="6.16" stroke-width="0.182" textLength="18.4" lengthAdjust="spacingAndGlyphs" font-weight="normal">LATVIA</text>
<text x="266.5" y="204.7" font-size="5.08" stroke-width="0.150" textLength="24" lengthAdjust="spacingAndGlyphs" font-weight="normal">LITHUANIA</text>
<text x="224" y="273" font-size="4.54" stroke-width="0.134" textLength="20" lengthAdjust="spacingAndGlyphs" font-weight="normal">CZECHIA</text>
<text x="239.8" y="315.4" font-size="3.78" stroke-width="0.112" textLength="15.2" lengthAdjust="spacingAndGlyphs" font-weight="normal">CROATIA</text>
<text x="237.3" y="419.4" font-size="3.13" stroke-width="0.093" textLength="10.4" lengthAdjust="spacingAndGlyphs" font-weight="normal">MALTA</text>
<text x="371" y="407.2" font-size="3.02" stroke-width="0.090" textLength="15" lengthAdjust="spacingAndGlyphs" font-weight="normal">CYPRUS</text>
<text x="210.5" y="183.5" font-size="7.99" stroke-width="0.237" textLength="35.5" lengthAdjust="spacingAndGlyphs" transform="rotate(-55.9 210.5 183.5)">SWEDEN</text>
<text x="249.8" y="302.2" font-size="5.62" stroke-width="0.166" textLength="27.5" lengthAdjust="spacingAndGlyphs" transform="rotate(-21.5 249.8 302.2)">HUNGARY</text>
<text x="217.9" y="300.2" font-size="4.54" stroke-width="0.134" textLength="18.3" lengthAdjust="spacingAndGlyphs" transform="rotate(-22 217.9 300.2)">AUSTRIA</text>
<text x="223.6" y="313.4" font-size="3.46" stroke-width="0.102" textLength="14.3" lengthAdjust="spacingAndGlyphs" transform="rotate(-23 223.6 313.4)">SLOVENIA</text>
<text x="250.6" y="284.5" font-size="3.89" stroke-width="0.115" textLength="18.6" lengthAdjust="spacingAndGlyphs" transform="rotate(-19.6 250.6 284.5)">SLOVAKIA</text>
<text x="300.5" y="339.5" font-size="4.97" stroke-width="0.147" textLength="22.6" lengthAdjust="spacingAndGlyphs" transform="rotate(-8 300.5 339.5)">BULGARIA</text>
</g>

<g font-family="Liberation Sans, DejaVu Sans, sans-serif" font-size="10.5" fill="#1a1a1a">
<rect x="52.1" y="44.5" width="12.2" height="11.4" rx="1.2" fill="#efefef" stroke="#8f8f8f" stroke-width="1.1"/>
<rect x="53.3" y="45.7" width="9.8" height="9" fill="none" stroke="#fafafa" stroke-width="0.7"/>
<rect x="52.1" y="62.2" width="12.2" height="11.4" rx="1.2" fill="#bebebe" stroke="#868686" stroke-width="1.1"/>
<rect x="52.1" y="79.9" width="12.2" height="11.4" rx="1.2" fill="#949494" stroke="#6a6a6a" stroke-width="1.1"/>
<rect x="52.1" y="97.5" width="12.2" height="11.4" rx="1.2" fill="#717171" stroke="#4a4a4a" stroke-width="1.1"/>
<text x="73.6" y="52.9" textLength="60.9" lengthAdjust="spacingAndGlyphs" stroke="#1a1a1a" stroke-width="0.35">No program</text>
<text x="73.8" y="70.3" textLength="60.7" lengthAdjust="spacingAndGlyphs" stroke="#1a1a1a" stroke-width="0.35">&lt; €250,000</text>
<text x="73.2" y="87.8" textLength="113.1" lengthAdjust="spacingAndGlyphs" stroke="#1a1a1a" stroke-width="0.35">€250,000 – €500,000</text>
<text x="73.5" y="105.2" textLength="61" lengthAdjust="spacingAndGlyphs" stroke="#1a1a1a" stroke-width="0.35">&gt; €500,000</text>
</g>

<g font-family="Liberation Sans, DejaVu Sans, sans-serif" font-size="10.3" fill="#0d0d0d" stroke="#0d0d0d" stroke-width="0.45">
<text x="350.5" y="43.7" font-weight="bold" textLength="38.2" lengthAdjust="spacingAndGlyphs">Country</text>
<text x="416.9" y="36.8" font-weight="bold" textLength="45.9" lengthAdjust="spacingAndGlyphs">Minimum</text>
<text x="416.9" y="50.6" font-weight="bold" textLength="51.8" lengthAdjust="spacingAndGlyphs">investment</text><text x="470" y="46" font-size="6.5" font-weight="bold">1</text>
<text x="485.2" y="43.7" font-weight="bold" textLength="92.2" lengthAdjust="spacingAndGlyphs">Investment options</text><text x="578.6" y="39.6" font-size="6.5" font-weight="bold">2</text>
<text x="350.5" y="68.7" textLength="37.7" lengthAdjust="spacingAndGlyphs">Bulgaria</text><text x="416.7" y="68.7" textLength="43.3" lengthAdjust="spacingAndGlyphs">€127,000</text><text x="485" y="68.7" textLength="76.3" lengthAdjust="spacingAndGlyphs">C, IF, GB, BD, RE</text>
<text x="350.5" y="87.1" textLength="32.3" lengthAdjust="spacingAndGlyphs">Cyprus</text><text x="416.7" y="87.1" textLength="43.3" lengthAdjust="spacingAndGlyphs">€330,000</text><text x="485" y="87.1" textLength="31.1" lengthAdjust="spacingAndGlyphs">BD, RE</text>
<text x="350.5" y="106.0" textLength="34.2" lengthAdjust="spacingAndGlyphs">Estonia</text><text x="416.7" y="106.0" textLength="52.8" lengthAdjust="spacingAndGlyphs">€1,000,000</text><text x="485" y="106.0" textLength="20.2" lengthAdjust="spacingAndGlyphs">C, IF</text>
<text x="350.5" y="124.5" textLength="32.8" lengthAdjust="spacingAndGlyphs">Greece</text><text x="416.7" y="124.5" textLength="43.3" lengthAdjust="spacingAndGlyphs">€250,000</text><text x="485" y="124.5" textLength="23.2" lengthAdjust="spacingAndGlyphs">C, RE</text>
<text x="350.5" y="143.1" textLength="38.8" lengthAdjust="spacingAndGlyphs">Hungary</text><text x="416.7" y="143.1" textLength="43.3" lengthAdjust="spacingAndGlyphs">€250,000</text><text x="485" y="143.1" textLength="13.3" lengthAdjust="spacingAndGlyphs">GB</text>
<text x="350.5" y="161.7" textLength="32.8" lengthAdjust="spacingAndGlyphs">Ireland</text><text x="416.7" y="161.7" textLength="43.3" lengthAdjust="spacingAndGlyphs">€500,000</text><text x="485" y="161.7" textLength="55.8" lengthAdjust="spacingAndGlyphs">C, IF, RE, PG</text>
<text x="350.5" y="180.4" textLength="20.5" lengthAdjust="spacingAndGlyphs">Italy</text><text x="416.7" y="180.4" textLength="43.3" lengthAdjust="spacingAndGlyphs">€500,000</text><text x="485" y="180.4" textLength="44.3" lengthAdjust="spacingAndGlyphs">C, GB, PG</text>
<text x="350.5" y="200.0" textLength="27.3" lengthAdjust="spacingAndGlyphs">Latvia</text><text x="416.7" y="200.0" textLength="37.8" lengthAdjust="spacingAndGlyphs">€60,000</text><text x="485" y="200.0" textLength="76.3" lengthAdjust="spacingAndGlyphs">C, IF, GB, BD, RE</text>
<text x="350.5" y="218.5" textLength="58.3" lengthAdjust="spacingAndGlyphs">Luxembourg</text><text x="416.7" y="218.5" textLength="43.3" lengthAdjust="spacingAndGlyphs">€500,000</text><text x="485" y="218.5" textLength="38.8" lengthAdjust="spacingAndGlyphs">C, IF, BD</text>
<text x="350.5" y="239.0" textLength="26.8" lengthAdjust="spacingAndGlyphs">Malta</text><text x="416.7" y="239.0" textLength="43.3" lengthAdjust="spacingAndGlyphs">€220,000</text><text x="485" y="239.0" textLength="42.9" lengthAdjust="spacingAndGlyphs">C, GB, RE</text>
<text x="350.5" y="257.5" textLength="57.5" lengthAdjust="spacingAndGlyphs">Netherlands</text><text x="416.7" y="257.5" textLength="52.3" lengthAdjust="spacingAndGlyphs">€1,250,000</text><text x="485" y="257.5" textLength="20.2" lengthAdjust="spacingAndGlyphs">C, IF</text>
<text x="350.5" y="276.3" textLength="39.1" lengthAdjust="spacingAndGlyphs">Portugal</text><text x="416.7" y="276.3" textLength="43.3" lengthAdjust="spacingAndGlyphs">€200,000</text><text x="485" y="276.3" textLength="94.9" lengthAdjust="spacingAndGlyphs">C, IF, GB, BD, RE, PG</text>
<text x="350.5" y="295.0" textLength="25.2" lengthAdjust="spacingAndGlyphs">Spain</text><text x="416.7" y="295.0" textLength="43.3" lengthAdjust="spacingAndGlyphs">€500,000</text><text x="485" y="295.0" textLength="76.3" lengthAdjust="spacingAndGlyphs">C, IF, GB, BD, RE</text>
<text x="350.5" y="313.6" textLength="13.1" lengthAdjust="spacingAndGlyphs">UK</text><text x="416.7" y="313.6" textLength="52.3" lengthAdjust="spacingAndGlyphs">€2,200,000</text><text x="485" y="313.6" textLength="20.2" lengthAdjust="spacingAndGlyphs">C, IF</text>
</g>
<g font-family="Liberation Sans, DejaVu Sans, sans-serif" font-size="6.9" font-weight="bold" fill="#0d0d0d" stroke="#0d0d0d" stroke-width="0.22">
<text x="416.2" y="324" font-size="4.6">1</text>
<text x="419.6" y="326.5" textLength="34.4" lengthAdjust="spacingAndGlyphs">Minimum</text>
<text x="416.2" y="336.8" textLength="51.4" lengthAdjust="spacingAndGlyphs">investment for</text>
<text x="416.2" y="346.2" textLength="55.9" lengthAdjust="spacingAndGlyphs">cheapest option</text>
<text x="485.2" y="324" font-size="4.6">2</text>
<text x="488.8" y="326.5" textLength="97.6" lengthAdjust="spacingAndGlyphs">Company, Investment Fund,</text>
<text x="485.2" y="336.8" textLength="117.8" lengthAdjust="spacingAndGlyphs">Government Bonds, Bank Deposit,</text>
<text x="485.2" y="346.2" textLength="83.9" lengthAdjust="spacingAndGlyphs">Real Estate, Public Good</text>
</g>
<g font-family="Liberation Sans, DejaVu Sans, sans-serif" font-size="15">
<text y="452.9" font-weight="bold" font-size="14.2" fill="#526aa3" stroke="#526aa3" stroke-width="0.3"><tspan x="8.3" textLength="26.9" lengthAdjust="spacingAndGlyphs">Map</tspan> <tspan x="41.6" textLength="10.6" lengthAdjust="spacingAndGlyphs">1.</tspan></text>
<text y="452.9" fill="#111" stroke="#111" stroke-width="0.5"><tspan x="58.6" textLength="16.9" lengthAdjust="spacingAndGlyphs">RBI</tspan> <tspan x="80" textLength="78.0" lengthAdjust="spacingAndGlyphs">programmes</tspan> <tspan x="163" textLength="8.6" lengthAdjust="spacingAndGlyphs">in</tspan> <tspan x="177.3" textLength="16.3" lengthAdjust="spacingAndGlyphs">EU</tspan> <tspan x="196" textLength="49.8" lengthAdjust="spacingAndGlyphs">member</tspan> <tspan x="250.6" textLength="33.9" lengthAdjust="spacingAndGlyphs">states</tspan> <tspan x="289.4" textLength="13.3" lengthAdjust="spacingAndGlyphs">to</tspan> <tspan x="307.6" textLength="37.4" lengthAdjust="spacingAndGlyphs">2020.</tspan></text>
</g>
</svg>
</body></html>
